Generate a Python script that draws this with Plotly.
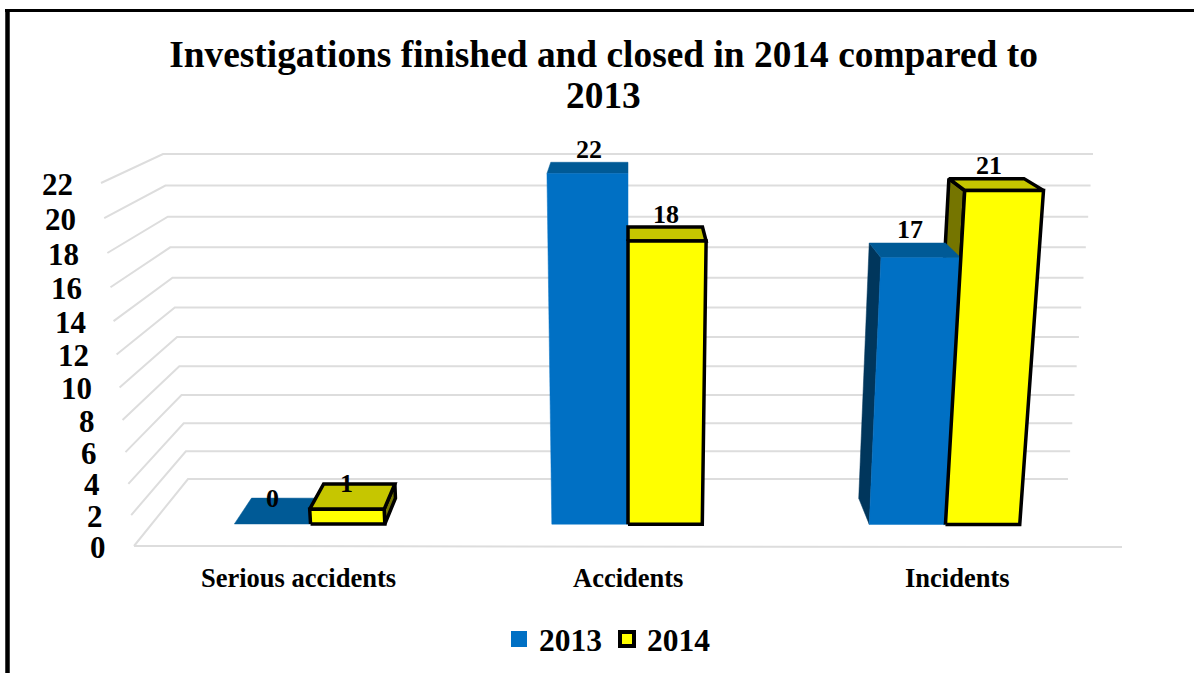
import plotly.graph_objects as go

TITLE_LINE_1 = "Investigations finished and closed in 2014 compared to"
TITLE_LINE_2 = "2013"
categories = ["Serious accidents", "Accidents", "Incidents"]
series_names = ["2013", "2014"]
values_2013 = [0, 22, 17]
values_2014 = [1, 18, 21]
value_ticks = [0, 2, 4, 6, 8, 10, 12, 14, 16, 18, 20, 22]

V_MAX = 22
WARP = 0.075
# projected corners of the chart box: (across, up, depth)
CORNERS = {
    (0, 0, 0): (134, 546), (1, 0, 0): (1122, 547),
    (0, 1, 0): (101, 183), (1, 1, 0): (1155, 183),
    (0, 0, 1): (188, 479), (1, 0, 1): (1068, 479),
    (0, 1, 1): (163, 154), (1, 1, 1): (1093, 154),
}
D_FRONT, D_BACK = 0.33, 0.715
BAR_W_2013 = 0.08
BAR_W_2014 = 0.078
SERIF = "Liberation Serif"


def project(u, v, d):
    s = v / V_MAX
    t = s / (1 + WARP * (1 - s))
    x = y = 0.0
    for (a, b, c), (px, py) in CORNERS.items():
        w = (u if a else 1 - u) * (t if b else 1 - t) * (d if c else 1 - d)
        x += w * px
        y += w * py
    return x, y


def poly(points):
    pts = [project(*p) for p in points]
    pts.append(pts[0])
    return [p[0] for p in pts], [p[1] for p in pts]


fig = go.Figure()


def face(points, fill, line_w=0):
    xs, ys = poly(points)
    fig.add_trace(go.Scatter(
        x=xs, y=ys, mode="lines", fill="toself", fillcolor=fill,
        line=dict(color="black" if line_w else fill, width=line_w if line_w else 0.5),
        showlegend=False, hoverinfo="skip"))


# gridlines
gx, gy = [], []
for v in value_ticks:
    for p in [project(0, v, 0), project(0, v, 1), project(1, v, 1)]:
        gx.append(p[0]); gy.append(p[1])
    gx.append(None); gy.append(None)
for p in [project(0, 0, 0), project(1, 0, 0)]:
    gx.append(p[0]); gy.append(p[1])
fig.add_trace(go.Scatter(x=gx, y=gy, mode="lines", line=dict(color="#DDDDDD", width=2),
                         showlegend=False, hoverinfo="skip"))

BLUE = dict(front="#0070C4", top="#005A96", side="#00365C", line=0)
YELLOW = dict(front="#FFFF00", top="#C6C600", side="#757500", line=3.5)


def side_face(e, v, st):
    face([(e, 0, D_FRONT), (e, v, D_FRONT), (e, v, D_BACK), (e, 0, D_BACK)], st["side"], st["line"])


def top_face(l, r, v, st):
    face([(l, v, D_FRONT), (r, v, D_FRONT), (r, v, D_BACK), (l, v, D_BACK)], st["top"], st["line"])


def front_face(l, r, v, st):
    face([(l, 0, D_FRONT), (r, 0, D_FRONT), (r, v, D_FRONT), (l, v, D_FRONT)], st["front"], st["line"])


annotations = []
n = len(categories)
for i, cat in enumerate(categories):
    c = (i + 0.5) / n
    v13, v14 = values_2013[i], values_2014[i]
    # the yellow bar's inner side sits behind the blue bar
    if project(c, v14, D_BACK)[0] < project(c, v14, D_FRONT)[0]:
        side_face(c, v14, YELLOW)
    # blue
    l, r = c - BAR_W_2013, c
    if project(l, v13, D_BACK)[0] < project(l, v13, D_FRONT)[0]:
        side_face(l, v13, BLUE)
    top_face(l, r, v13, BLUE)
    if v13 > 0:
        front_face(l, r, v13, BLUE)
    # yellow
    l, r = c, c + BAR_W_2014
    if project(r, v14, D_BACK)[0] > project(r, v14, D_FRONT)[0]:
        side_face(r, v14, YELLOW)
    top_face(l, r, v14, YELLOW)
    front_face(l, r, v14, YELLOW)
    # data labels
    for val, mid in ((v13, c - BAR_W_2013 / 2), (v14, c + BAR_W_2014 / 2)):
        low = val <= 1
        x, _ = project(mid, val, D_FRONT if low else 0.65)
        _, y = project(mid, val, D_BACK)
        annotations.append(dict(x=x, y=y - (0 if low else 13), text=str(val), showarrow=False,
                                xanchor="center", yanchor="middle",
                                font=dict(size=26, color="black", family=SERIF, weight=700)))
    # category labels
    x, _ = project(c, 0, 0)
    annotations.append(dict(x=x, y=578, text=cat, showarrow=False,
                            xanchor="center", yanchor="middle",
                            font=dict(size=26.5, color="black", family=SERIF, weight=700)))

# value axis labels
for v in value_ticks:
    x, y = project(0, v, 0)
    annotations.append(dict(x=x - 26, y=y + 1, text=str(v), showarrow=False,
                            xanchor="right", yanchor="middle",
                            font=dict(size=31, color="black", family=SERIF, weight=700)))

# second title line
annotations.append(dict(x=603, y=95, text=TITLE_LINE_2, showarrow=False,
                        xanchor="center", yanchor="middle",
                        font=dict(size=37.4, color="black", family=SERIF, weight=700)))

# legend entries
fig.add_trace(go.Scatter(x=[None], y=[None], mode="markers", name=series_names[0],
                         marker=dict(symbol="square", size=17, color=BLUE["front"])))
fig.add_trace(go.Scatter(x=[None], y=[None], mode="markers", name=series_names[1],
                         marker=dict(symbol="square", size=14, color=YELLOW["front"],
                                     line=dict(color="black", width=4))))

fig.update_layout(
    width=1194, height=673, margin=dict(l=0, r=0, t=0, b=0),
    paper_bgcolor="white", plot_bgcolor="white",
    xaxis=dict(range=[0, 1194], visible=False, fixedrange=True),
    yaxis=dict(range=[673, 0], visible=False, fixedrange=True),
    title=dict(text=TITLE_LINE_1, x=603.5 / 1194, xanchor="center", y=1 - 54 / 673, yanchor="middle",
               font=dict(size=37.4, color="black", family=SERIF, weight=700)),
    legend=dict(orientation="h", x=499 / 1194, xanchor="left", y=1 - 639 / 673, yanchor="middle",
                font=dict(size=31.5, color="black", family=SERIF, weight=700),
                itemsizing="trace", bgcolor="rgba(0,0,0,0)"),
    annotations=annotations,
    shapes=[
        dict(type="line", xref="x", yref="y", x0=7.5, x1=7.5, y0=10, y1=673, line=dict(color="black", width=4.5)),
        dict(type="line", xref="x", yref="y", x0=5, x1=1194, y0=10.5, y1=10.5, line=dict(color="black", width=3)),
    ],
)

fig.write_html("out.html", config={"displayModeBar": False},
               post_script="document.body.style.margin='0';document.body.style.overflow='hidden';")
